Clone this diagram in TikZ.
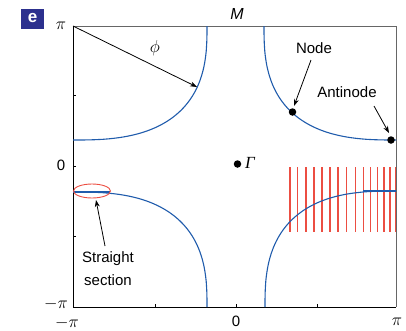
\documentclass[tikz,border=0pt]{standalone}
\usepackage{fontspec}
\setmainfont{Liberation Sans}
\newfontfamily\serifit{Liberation Serif}
\usetikzlibrary{arrows.meta,shapes.geometric}
\definecolor{curveblue}{RGB}{32,92,172}
\definecolor{linered}{RGB}{236,78,66}
\definecolor{boxblue}{RGB}{44,48,142}
\tikzset{
  fermi/.style={curveblue, line width=1.1pt},
  redline/.style={linered, line width=1.4pt},
  pointer/.style={-{Stealth[length=7pt,width=5pt]}, line width=0.8pt},
  lbl/.style={font=\fontsize{15}{17}\selectfont, inner sep=0pt},
  mlbl/.style={font=\fontsize{16}{18}\selectfont, inner sep=0pt},
  dotmark/.style={circle, fill=black, inner sep=0pt, minimum size=7.5pt},
}
\begin{document}
\begin{tikzpicture}[x=1pt,y=-1pt]
\useasboundingbox (0,0) rectangle (406,330);
% frame
\coordinate (TL) at (73,26);
\coordinate (TR) at (396,26);
\coordinate (BL) at (73,307);
\coordinate (BR) at (396,307);
\draw[gray!80!black, line width=0.8pt] (TL) -- (TR) -- (BR);
\draw[black, line width=0.8pt] (TL) -- (BL) -- (BR);
% ticks
\foreach \tx in {155,236,317} \draw[line width=0.6pt] (\tx,307) -- (\tx,304);
\foreach \ty in {95,166,236} \draw[line width=0.6pt] (73,\ty) -- (76,\ty);
% red lines
\foreach \rx in {290,297.7,306,314,322,330,338,346.7,355.3,363.7,370.7,377.7,384,390,395.5}
  \draw[redline] (\rx,167) -- (\rx,232);
% Fermi surface curves
\draw[fermi] (207,26) -- plot[domain=0.5:89.5,samples=80,smooth]
  ({73+134*pow(cos(\x),0.74)},{26+114*pow(sin(\x),0.74)}) -- (73,140);
\draw[fermi] (264,26) -- plot[domain=0.5:89.5,samples=80,smooth]
  ({396-132*pow(cos(\x),0.74)},{26+114*pow(sin(\x),0.74)}) -- (396,140);
\draw[fermi] (207,307) -- plot[domain=0.5:89.5,samples=80,smooth]
  ({73+134*pow(cos(\x),0.74)},{307-115*pow(sin(\x),0.74)}) -- (73,192);
\draw[fermi] (73,192) -- (110,192);
\draw[fermi] (265,307) -- plot[domain=0.5:89.5,samples=80,smooth]
  ({396-131*pow(cos(\x),0.74)},{307-116*pow(sin(\x),0.74)}) -- (396,191);
\draw[fermi] (363,191) -- (396,191);
% straight section ellipse
\node[draw=linered, ellipse, line width=0.9pt, minimum width=37pt, minimum height=14pt, inner sep=0pt] (ell) at (92,191) {};
% points
\node[dotmark] (node) at (292.5,112) {};
\node[dotmark] (antinode) at (391,140) {};
\node[dotmark] (gamma) at (237.5,164) {};
\node[font=\fontsize{17}{18}\selectfont\serifit\itshape, inner sep=0pt, anchor=west] (gammalbl) at (245,163) {Γ};
% labels
\node[boxblue, fill=boxblue, minimum width=23pt, minimum height=20pt, inner sep=0pt] (ebox) at (32.5,19) {};
\node[white, font=\fontsize{17}{17}\selectfont\bfseries, inner sep=0pt] (elbl) at (32.5,18) {e};
\node[mlbl] (Mlbl) at (237,14) {\textit{M}};
\node[mlbl] (pitop) at (61,26) {$\pi$};
\node[lbl] (zeroleft) at (61,165) {0};
\node[mlbl] (mpileft) at (56,304) {$-\pi$};
\node[mlbl] (mpibot) at (67,323) {$-\pi$};
\node[lbl] (zerobot) at (236,321) {0};
\node[mlbl] (pibot) at (397,322) {$\pi$};
\node[mlbl] (philbl) at (155,48) {$\phi$};
\node[lbl] (nodelbl) at (314,48) {Node};
\node[lbl] (antilbl) at (347,92) {Antinode};
\node[lbl, align=center, font=\fontsize{15}{23}\selectfont] (strlbl) at (108,269) {Straight\\section};
% arrows
\coordinate (phistart) at (73,26);
\coordinate (phiend) at (197,87);
\draw[pointer] (phistart) -- (phiend);
\coordinate (na) at (311,60);
\coordinate (nb) at (294,106);
\draw[pointer] (na) -- (nb);
\coordinate (aa) at (374,106);
\coordinate (ab) at (389,133);
\draw[pointer] (aa) -- (ab);
\coordinate (sa) at (105,246);
\coordinate (sb) at (96,200);
\draw[pointer] (sa) -- (sb);
\end{tikzpicture}
\end{document}
